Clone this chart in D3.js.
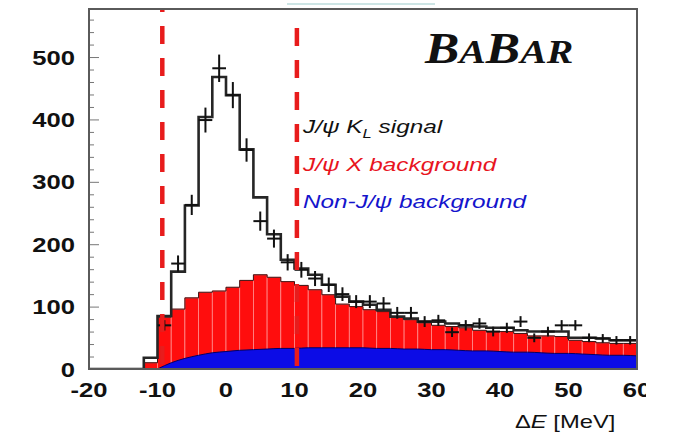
<!DOCTYPE html>
<html>
<head>
<meta charset="utf-8">
<script src="https://cdn.jsdelivr.net/npm/d3@7"></script>
<style>
  body { margin: 0; background: #fff; }
  svg { display: block; }
  .tick-label { font-family: "Liberation Sans", Arial, sans-serif; font-weight: bold; font-size: 21px; fill: #111; }
  .legend { font-family: "Liberation Sans", Arial, sans-serif; font-style: italic; font-size: 19px; }
  .axis-title { font-family: "Liberation Sans", Arial, sans-serif; font-size: 19px; fill: #111; }
</style>
</head>
<body>
<div id="chart"></div>
<script>

// Histogram bins (lower edge, MeV), 2 MeV wide
const binLow = [-20, -18, -16, -14, -12, -10, -8, -6, -4, -2, 0, 2, 4, 6, 8, 10, 12, 14, 16, 18,
                20, 22, 24, 26, 28, 30, 32, 34, 36, 38, 40, 42, 44, 46, 48, 50, 52, 54, 56, 58];
const binWidth = 2;

// total fit (black step line)
const totalFit = [0, 0, 0, 0, 18, 85, 156, 262, 404, 468, 439, 352, 275, 216, 175, 161, 151, 135, 116, 108,
                  103, 95, 84, 81, 76, 76, 73, 70, 68, 66, 66, 62, 60, 60, 60, 50, 50, 49, 46, 46];

// J/psi X background (red, stacked on non-J/psi)
const bkgJpsiX = [0, 0, 0, 0, 10, 83, 96, 114, 123, 125, 131, 142, 151, 147, 140, 134, 127, 119, 104, 100,
                  95, 92, 84, 79, 74, 70, 68, 66, 62, 60, 60, 57, 53, 53, 52, 46, 44, 42, 41, 41];

// non-J/psi background (blue, smooth shape)
const nonJpsiE = [-10, -8, -6, -4, -2, 0, 2, 4, 6, 8, 10, 12, 14, 16, 18, 20, 22, 24, 26, 28,
                  30, 32, 34, 36, 38, 40, 42, 44, 46, 48, 50, 52, 54, 56, 58, 60];
const nonJpsi  = [0, 10, 17, 22, 26, 28, 30, 31, 32, 33, 33, 34, 34, 34, 34, 34, 33, 33, 32, 32,
                  31, 31, 30, 29, 29, 28, 27, 27, 26, 25, 25, 24, 23, 22, 22, 21];

// data points (bin centres)
const dataE = [-9, -7, -5, -3, -1, 1, 3, 5, 7, 9, 11, 13, 15, 17, 19, 21, 23, 25, 27, 29,
               31, 33, 35, 37, 39, 41, 43, 45, 47, 49, 51, 53, 55, 57, 59];
const dataN = [70, 169, 263, 399, 482, 439, 351, 237, 209, 171, 159, 145, 135, 120, 108, 108, 105, 90, 90, 76,
               78, 59, 70, 73, 60, 66, 76, 50, 60, 70, 70, 50, 49, 46, 46];

const xTicks = [-20, -10, 0, 10, 20, 30, 40, 50, 60];
const yTicks = [0, 100, 200, 300, 400, 500];
const yMinorTicks = [20, 40, 60, 80, 120, 140, 160, 180, 220, 240, 260, 280, 320, 340, 360, 380,
                     420, 440, 460, 480, 520, 540, 560];

// signal window cuts (dashed red lines)
const cutLines = [-9.3, 10.35];

const legendItems = [
  { parts: [["J/\u03c8 K", false], ["L", true], [" signal", false]], color: "#111111" },
  { parts: [["J/\u03c8 X background", false]], color: "#e8141e" },
  { parts: [["Non-J/\u03c8 background", false]], color: "#1414cc" }
];

const width = 677;
const height = 433;
const plot = { left: 89, right: 637, top: 9, bottom: 369 };

const x = d3.scaleLinear().domain([-20, 60]).range([plot.left, plot.right]);
const y = d3.scaleLinear().domain([0, 577]).range([plot.bottom, plot.top]);

const svg = d3.select("#chart")
  .append("svg")
  .attr("width", width)
  .attr("height", height);

svg.append("rect")
  .attr("width", width)
  .attr("height", height)
  .attr("fill", "#fff");

svg.append("clipPath")
  .attr("id", "plot-clip")
  .append("rect")
  .attr("x", plot.left)
  .attr("y", plot.top)
  .attr("width", plot.right - plot.left)
  .attr("height", plot.bottom - plot.top);

svg.append("clipPath")
  .attr("id", "page-clip")
  .append("rect")
  .attr("x", 0)
  .attr("y", 0)
  .attr("width", 646)
  .attr("height", height);

// faint stray line at the top of the scan
svg.append("line")
  .attr("x1", 287).attr("x2", 435)
  .attr("y1", 4).attr("y2", 4)
  .attr("stroke", "#bcdcdc")
  .attr("stroke-width", 1.5);

const g = svg.append("g").attr("clip-path", "url(#plot-clip)");

// red bars
g.selectAll("rect.bkg")
  .data(binLow.map((e, i) => ({ e: e, v: bkgJpsiX[i] })).filter(d => d.v > 0))
  .join("rect")
  .attr("class", "bkg")
  .attr("x", d => x(d.e))
  .attr("width", d => x(d.e + binWidth) - x(d.e))
  .attr("y", d => y(d.v))
  .attr("height", d => y(0) - y(d.v))
  .attr("fill", "#ff0d0d")
  .attr("stroke", "#ff8c8c")
  .attr("stroke-width", 0.8);

// blue area
const blue = nonJpsiE.map((e, i) => [e, nonJpsi[i]]);

g.append("path")
  .datum(blue)
  .attr("fill", "#0c0ce6")
  .attr("d", d3.area()
    .x(d => x(d[0]))
    .y0(y(0))
    .y1(d => y(d[1]))
    .curve(d3.curveMonotoneX));

g.append("path")
  .datum(blue)
  .attr("fill", "none")
  .attr("stroke", "#000066")
  .attr("stroke-width", 1)
  .attr("d", d3.line()
    .x(d => x(d[0]))
    .y(d => y(d[1]))
    .curve(d3.curveMonotoneX));

function stepPoints(values) {
  const pts = binLow.map((e, i) => [e, values[i]]);
  pts.push([binLow[binLow.length - 1] + binWidth, values[values.length - 1]]);
  return pts;
}

const stepLine = d3.line()
  .x(d => x(d[0]))
  .y(d => y(d[1]))
  .curve(d3.curveStepAfter);

// thin outline on the red histogram
g.append("path")
  .datum(stepPoints(bkgJpsiX))
  .attr("fill", "none")
  .attr("stroke", "#3a1010")
  .attr("stroke-width", 1)
  .attr("d", stepLine);

// total fit
g.append("path")
  .datum(stepPoints(totalFit))
  .attr("fill", "none")
  .attr("stroke", "#262626")
  .attr("stroke-width", 2.6)
  .attr("d", stepLine);

// data points with errors
const pts = g.selectAll("g.pt")
  .data(dataE.map((e, i) => ({ e: e, n: dataN[i] })))
  .join("g")
  .attr("class", "pt")
  .attr("stroke", "#111")
  .attr("stroke-width", 2);

pts.append("line")
  .attr("x1", d => x(d.e - binWidth / 2))
  .attr("x2", d => x(d.e + binWidth / 2))
  .attr("y1", d => y(d.n))
  .attr("y2", d => y(d.n));

pts.append("line")
  .attr("x1", d => x(d.e))
  .attr("x2", d => x(d.e))
  .attr("y1", d => y(d.n - Math.sqrt(d.n)))
  .attr("y2", d => y(d.n + Math.sqrt(d.n)));

// dashed signal window
g.selectAll("line.cut")
  .data(cutLines)
  .join("line")
  .attr("class", "cut")
  .attr("x1", d => x(d))
  .attr("x2", d => x(d))
  .attr("y1", (d, i) => i === 0 ? plot.top : plot.top + 19)
  .attr("y2", plot.bottom)
  .attr("stroke", "#e81c1c")
  .attr("stroke-width", 4.5)
  .attr("stroke-dasharray", "18 14")
  .attr("stroke-dashoffset", (d, i) => i === 0 ? 15 : 0);

// y axis ticks (inward)
svg.append("g")
  .attr("transform", `translate(${plot.left},0)`)
  .call(d3.axisRight(y).tickValues(yMinorTicks).tickSize(5).tickFormat(""))
  .call(a => a.select(".domain").remove())
  .call(a => a.selectAll("line").attr("stroke", "#777"));

svg.append("g")
  .attr("transform", `translate(${plot.left},0)`)
  .call(d3.axisRight(y).tickValues(yTicks).tickSize(10).tickFormat(""))
  .call(a => a.select(".domain").remove())
  .call(a => a.selectAll("line").attr("stroke", "#777"));

// frame
svg.append("rect")
  .attr("x", plot.left)
  .attr("y", plot.top)
  .attr("width", plot.right - plot.left)
  .attr("height", plot.bottom - plot.top)
  .attr("fill", "none")
  .attr("stroke", "#5a5a5a")
  .attr("stroke-width", 2);

// tick labels (the scan is stretched horizontally)
svg.append("g")
  .selectAll("g")
  .data(yTicks)
  .join("g")
  .attr("transform", d => `translate(75,${y(d) + 7.5}) scale(1.22,1)`)
  .append("text")
  .attr("class", "tick-label")
  .attr("text-anchor", "end")
  .text(d => d);

svg.append("g")
  .attr("clip-path", "url(#page-clip)")
  .selectAll("g")
  .data(xTicks)
  .join("g")
  .attr("transform", d => `translate(${x(d)},397) scale(1.22,1)`)
  .append("text")
  .attr("class", "tick-label")
  .attr("text-anchor", "middle")
  .text(d => d);

// axis title
const title = svg.append("g")
  .attr("transform", "translate(515,428) scale(1.25,1)")
  .append("text")
  .attr("class", "axis-title");
title.append("tspan").text("\u0394");
title.append("tspan").attr("font-style", "italic").text("E");
title.append("tspan").text(" [MeV]");

// legend
legendItems.forEach((item, i) => {
  const t = svg.append("g")
    .attr("transform", `translate(303,${133 + i * 37.5}) scale(1.28,1)`)
    .append("text")
    .attr("class", "legend")
    .attr("fill", item.color);
  item.parts.forEach(p => {
    const s = t.append("tspan").text(p[0]);
    if (p[1]) {
      s.attr("font-size", "13px").attr("dy", 5);
    } else if (t.selectAll("tspan").size() > 1) {
      s.attr("dy", -5);
    }
  });
});

// BABAR logo
const logo = svg.append("g")
  .attr("transform", "translate(425,63) scale(1.17,1)")
  .append("text")
  .attr("font-family", "\"Liberation Serif\", \"Times New Roman\", serif")
  .attr("font-weight", "bold")
  .attr("font-style", "italic")
  .attr("fill", "#111");
[["B", 44], ["A", 34], ["B", 44], ["AR", 34]].forEach(p => {
  logo.append("tspan").attr("font-size", p[1] + "px").text(p[0]);
});

</script>
</body>
</html>
